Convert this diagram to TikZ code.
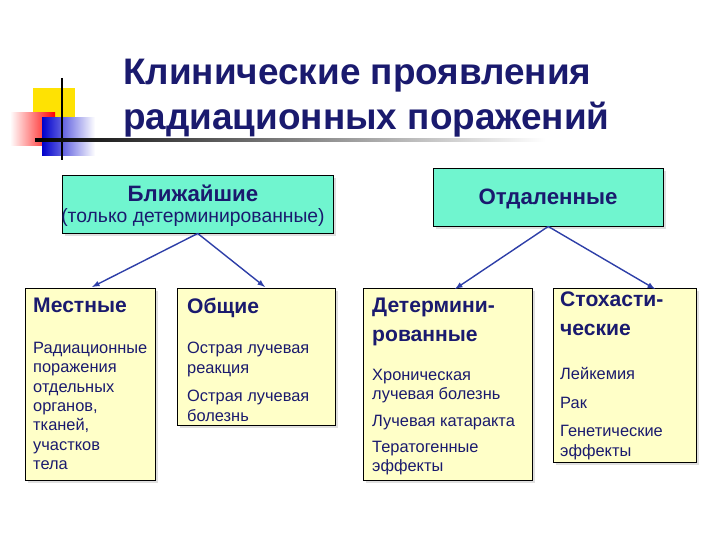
\documentclass[tikz,border=0pt]{standalone}
\usepackage{fontspec}
\setmainfont{Liberation Sans}
\usetikzlibrary{positioning,shadows}
\definecolor{navy}{HTML}{1A1A6E}
\definecolor{aqua}{HTML}{70F5CF}
\definecolor{cream}{HTML}{FFFFC8}
\definecolor{arrblue}{HTML}{2E3FA8}
\begin{document}
\begin{tikzpicture}
		[x=0.03cm,y=-0.03cm,
		top/.style={draw=black,fill=aqua,drop shadow={opacity=0.25},anchor=north west,inner sep=0pt},
		leaf/.style={draw=black,fill=cream,drop shadow={opacity=0.25},anchor=north west,inner sep=0pt},
		head/.style={anchor=north west,font=\bfseries\fontsize{18}{24.5}\selectfont,align=left,inner sep=0pt,text=navy},
		body/.style={anchor=north west,font=\fontsize{14}{16.5}\selectfont,align=left,inner sep=0pt,text=navy},
		link/.style={->,>=latex,arrblue,very thick}]
		\useasboundingbox (0,0) rectangle (720,540);
		% decoration
		\fill[yellow!85!orange] (33,88) rectangle (75,120);
		\shade[left color=white,right color=red] (10,113) rectangle (55,146);
		\shade[left color=blue!80!black,right color=white] (42,118) rectangle (95,156);
		\draw[very thick] (62,78) -- (62,160);
		\shade[left color=black,right color=white] (35,139) rectangle (545,141.5);
		\node[anchor=west,text=navy,font=\bfseries\fontsize{31.5}{38}\selectfont,align=left,inner sep=0pt] (title) at (123,98)
			{Клинические проявления\\радиационных поражений};
		% top boxes
		\node[top,minimum width=271*0.03cm,minimum height=58*0.03cm,name=near] at (62,175) {};
		\node[text=navy,font=\bfseries\fontsize{19}{21}\selectfont,inner sep=0pt] (nearT) at (193,193) {Ближайшие};
		\node[text=navy,font=\fontsize{16.5}{18}\selectfont,inner sep=0pt] (nearS) at (193,218) {(только детерминированные)};
		\node[top,minimum width=230*0.03cm,minimum height=58*0.03cm,name=far] at (433,168) {};
		\node[text=navy,font=\bfseries\fontsize{19}{21}\selectfont,inner sep=0pt] (farT) at (548,199) {Отдаленные};
		% bottom boxes
		\node[leaf,minimum width=130*0.03cm,minimum height=192*0.03cm,name=loc] at (25,288) {};
		\node[leaf,minimum width=158*0.03cm,minimum height=137*0.03cm,name=gen] at (177,288) {};
		\node[leaf,minimum width=169*0.03cm,minimum height=192*0.03cm,name=det] at (363,288) {};
		\node[leaf,minimum width=143*0.03cm,minimum height=174*0.03cm,name=sto] at (553,288) {};
		\node[head] (locT) at (33,298) {Местные};
		\node[body] (locB) at (33,342) {Радиационные\\поражения\\отдельных\\органов,\\тканей,\\участков\\тела};
		\node[head] (genT) at (187,298) {Общие};
		\node[body] (genB) at (187,342) {Острая лучевая\\реакция\\[8pt]Острая лучевая\\болезнь};
		\node[head] (detT) at (372,298) {Детермини-\\рованные};
		\node[body] (detB) at (372,369) {Хроническая\\лучевая болезнь\\[6pt]Лучевая катаракта\\[6pt]Тератогенные\\эффекты};
		\node[head] (stoT) at (560,292) {Стохасти-\\ческие};
		\node[body] (stoB) at (560,367) {Лейкемия\\[8pt]Рак\\[8pt]Генетические\\эффекты};
		% arrows
		\draw[link] (near.south) -- (92,287);
		\draw[link] (near.south) -- (265,287);
		\draw[link] (far.south) -- (455,289);
		\draw[link] (far.south) -- (655,289);
	\end{tikzpicture}
\end{document}
